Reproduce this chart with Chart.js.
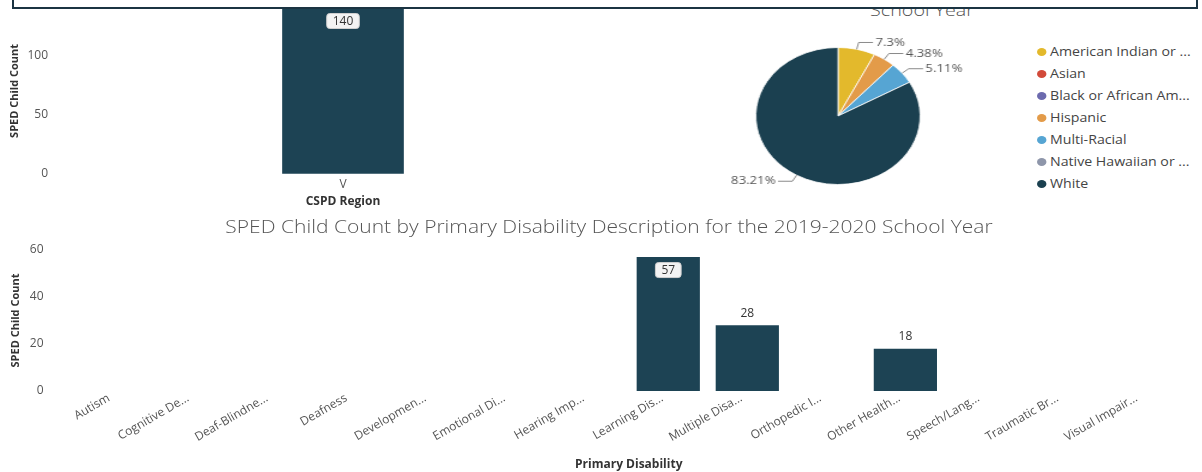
<!DOCTYPE html>
<html>
<head>
<meta charset="utf-8">
<script src="https://cdn.jsdelivr.net/npm/chart.js@4.4.1/dist/chart.umd.min.js"></script>
<style>
  html, body { margin: 0; padding: 0; background: #fff; }
  body { width: 1202px; height: 472px; position: relative; overflow: hidden; font-family: "Open Sans", sans-serif; }
  #frame { position: absolute; left: 12px; top: -14px; width: 1182px; height: 19px; border: 2px solid #1b3442; background: #fff; z-index: 5; }
  #regionWrap { position: absolute; left: 0; top: 0; width: 640px; height: 215px; }
  #pieWrap { position: absolute; left: 700px; top: 0; width: 240px; height: 215px; transform: scaleX(1.2); transform-origin: 0 0; }
  #pieTitle { position: absolute; left: 822px; width: 200px; top: 0px; text-align: center; font-size: 17px; line-height: 20px; color: #555; font-weight: 300; transform: scaleX(1.16); }
  #legend { position: absolute; left: 1037px; top: 41px; font-size: 12px; line-height: 22px; color: #444; white-space: nowrap; transform: scaleX(1.18); transform-origin: 0 0; }
  #legend .dot { display: inline-block; width: 8px; height: 8px; border-radius: 50%; margin-right: 3px; vertical-align: 0px; }
  #disTitle { position: absolute; left: 0; width: 1218px; top: 215px; text-align: center; font-size: 18px; line-height: 22px; color: #555; font-weight: 300; transform: scaleX(1.167); }
  #disWrap { position: absolute; left: 0; top: 212px; width: 1202px; height: 260px; }
</style>
</head>
<body>
<div id="frame"></div>
<div id="regionWrap"><canvas id="regionChart"></canvas></div>
<div id="pieTitle">School Year</div>
<div id="pieWrap"><canvas id="raceChart"></canvas></div>
<div id="legend"></div>
<div id="disTitle">SPED Child Count by Primary Disability Description for the 2019-2020 School Year</div>
<div id="disWrap"><canvas id="disabilityChart"></canvas></div>

<script>
const regionLabels = ['V'];
const regionCounts = [140];

const raceLabels = ['American Indian or ...', 'Asian', 'Black or African Am...', 'Hispanic',
                    'Multi-Racial', 'Native Hawaiian or ...', 'White'];
const raceCounts = [10, 0, 0, 6, 7, 0, 114];
const raceColors = ['#e3b92c', '#d24a3a', '#6c6aae', '#e39b49', '#56a5d3', '#8e96aa', '#1b4050'];

const disabilityLabels = ['Autism', 'Cognitive De...', 'Deaf-Blindne...', 'Deafness', 'Developmen...',
                          'Emotional Di...', 'Hearing Imp...', 'Learning Dis...', 'Multiple Disa...',
                          'Orthopedic I...', 'Other Health...', 'Speech/Lang...', 'Traumatic Br...',
                          'Visual Impair...'];
const disabilityCounts = [0, 0, 0, 0, 0, 0, 0, 57, 28, 0, 18, 0, 0, 0];

const barColor = '#1d4354';
const FONT = '"Open Sans", sans-serif';
Chart.defaults.font.family = FONT;
Chart.defaults.animation = false;

// value above each bar, or boxed just inside the top when there is no room above
const valueLabels = {
  id: 'valueLabels',
  afterDatasetsDraw(chart) {
    const { ctx, chartArea } = chart;
    const values = chart.data.datasets[0].data;
    ctx.save();
    ctx.font = '12px ' + FONT;
    ctx.textAlign = 'center';
    ctx.textBaseline = 'middle';
    chart.getDatasetMeta(0).data.forEach((bar, i) => {
      const v = values[i];
      if (!v) return;
      const text = String(v);
      if (bar.y - 20 < chartArea.top) {
        const w = ctx.measureText(text).width + 12, h = 15, cy = bar.y + 13;
        ctx.fillStyle = '#f3f3f3';
        ctx.strokeStyle = '#cfcfcf';
        ctx.lineWidth = 1;
        ctx.beginPath();
        ctx.roundRect(bar.x - w / 2, cy - h / 2, w, h, 3);
        ctx.fill();
        ctx.stroke();
        ctx.fillStyle = '#333';
        ctx.fillText(text, bar.x, cy + 0.5);
      } else {
        ctx.fillStyle = '#333';
        ctx.fillText(text, bar.x, bar.y - 12);
      }
    });
    ctx.restore();
  }
};

// percentage labels with short leader lines outside the pie
const pieLabels = {
  id: 'pieLabels',
  afterDatasetsDraw(chart) {
    const { ctx } = chart;
    const data = chart.data.datasets[0].data;
    const total = data.reduce((a, b) => a + b, 0);
    ctx.save();
    ctx.font = '11px ' + FONT;
    ctx.textBaseline = 'middle';
    ctx.strokeStyle = '#8a8a8a';
    ctx.fillStyle = '#555';
    ctx.lineWidth = 1;
    chart.getDatasetMeta(0).data.forEach((arc, i) => {
      if (!data[i]) return;
      const { x, y, startAngle, endAngle, outerRadius } =
        arc.getProps(['x', 'y', 'startAngle', 'endAngle', 'outerRadius'], true);
      const mid = (startAngle + endAngle) / 2;
      const cos = Math.cos(mid), sin = Math.sin(mid);
      const x0 = x + cos * outerRadius, y0 = y + sin * outerRadius;
      const x1 = x + cos * (outerRadius + 7), y1 = y + sin * (outerRadius + 7);
      const dir = cos >= 0 ? 1 : -1;
      const x2 = x1 + dir * 12;
      ctx.beginPath();
      ctx.moveTo(x0, y0);
      ctx.lineTo(x1, y1);
      ctx.lineTo(x2, y1);
      ctx.stroke();
      ctx.textAlign = dir > 0 ? 'left' : 'right';
      ctx.fillText(+(data[i] / total * 100).toFixed(2) + '%', x2 + dir * 2, y1);
    });
    ctx.restore();
  }
};

const noGrid = { display: false, drawTicks: false };

// keep the value axis flush with the layout padding instead of reserving room for tick text
const flushAxis = width => s => { s.width = width; s.paddingTop = 0; s.paddingBottom = 0; };

new Chart(document.getElementById('regionChart'), {
  type: 'bar',
  data: {
    labels: regionLabels,
    datasets: [{ data: regionCounts, backgroundColor: barColor, barThickness: 121 }]
  },
  options: {
    responsive: true,
    maintainAspectRatio: false,
    layout: { padding: { left: 3, right: 10, top: 8, bottom: 8 } },
    plugins: { legend: { display: false }, tooltip: { enabled: false } },
    scales: {
      x: {
        grid: noGrid, border: { display: false },
        ticks: { color: '#555', font: { size: 12 }, padding: 4 },
        title: { display: true, text: 'CSPD Region', color: '#333', font: { size: 12, weight: 'bold', lineHeight: 0.9 }, padding: { top: 0, bottom: 0 } }
      },
      y: {
        min: 0, max: 140,
        grid: noGrid, border: { display: false },
        afterFit: flushAxis(53),
        ticks: { stepSize: 50, color: '#555', font: { size: 12 }, padding: 8, callback: v => v % 50 === 0 ? v : '' },
        title: { display: true, text: 'SPED Child Count', color: '#333', font: { size: 11, weight: 'bold' }, padding: { top: 5, bottom: 4 } }
      }
    }
  },
  plugins: [valueLabels]
});

new Chart(document.getElementById('raceChart'), {
  type: 'pie',
  data: {
    labels: raceLabels,
    datasets: [{ data: raceCounts, backgroundColor: raceColors, borderColor: 'rgba(255,255,255,0.8)', borderWidth: 1 }]
  },
  options: {
    responsive: true,
    maintainAspectRatio: false,
    layout: { padding: { left: 46, right: 56, top: 47, bottom: 30 } },
    plugins: { legend: { display: false }, tooltip: { enabled: false } }
  },
  plugins: [pieLabels]
});

const legend = document.getElementById('legend');
raceLabels.forEach((label, i) => {
  const row = document.createElement('div');
  row.innerHTML = '<span class="dot" style="background:' + raceColors[i] + '"></span>' + label;
  legend.appendChild(row);
});

new Chart(document.getElementById('disabilityChart'), {
  type: 'bar',
  data: {
    labels: disabilityLabels,
    datasets: [{ data: disabilityCounts, backgroundColor: barColor, barPercentage: 0.8, categoryPercentage: 1 }]
  },
  options: {
    responsive: true,
    maintainAspectRatio: false,
    layout: { padding: { left: 4, right: 20, top: 38, bottom: 0 } },
    plugins: { legend: { display: false }, tooltip: { enabled: false } },
    scales: {
      x: {
        grid: noGrid, border: { display: false },
        ticks: { autoSkip: false, minRotation: 30, maxRotation: 30, labelOffset: -6, color: '#555', font: { size: 12 }, padding: 0 },
        title: { display: true, text: 'Primary Disability', color: '#333', font: { size: 12, weight: 'bold' }, padding: { top: 13, bottom: 0 } }
      },
      y: {
        min: 0, max: 60,
        grid: noGrid, border: { display: false },
        afterFit: flushAxis(71.5),
        ticks: { stepSize: 20, color: '#555', font: { size: 12 }, padding: 32 },
        title: { display: true, text: 'SPED Child Count', color: '#333', font: { size: 11, weight: 'bold' }, padding: { top: 5, bottom: 4 } }
      }
    }
  },
  plugins: [valueLabels]
});
</script>
</body>
</html>
